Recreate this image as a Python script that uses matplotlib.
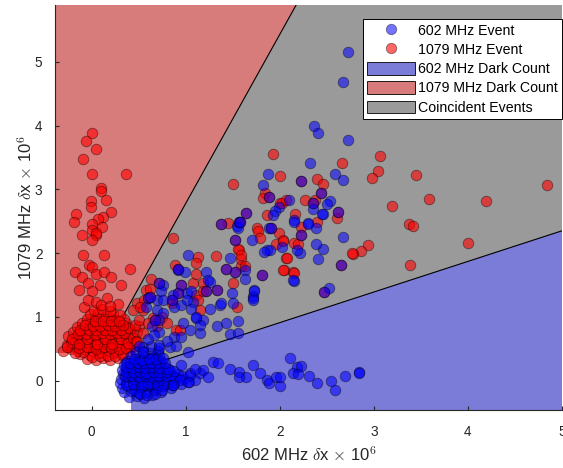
import matplotlib
matplotlib.use("Agg")
import matplotlib.pyplot as plt
from matplotlib.patches import Polygon, Patch
from matplotlib.lines import Line2D

plt.rcParams['font.family'] = ['Liberation Sans', 'DejaVu Sans']
plt.rcParams['mathtext.fontset'] = 'cm'

# ---------------- data ----------------
# dense cluster of 1079 MHz dark counts
red_cluster_x = [-0.05, 0.05, 0.12, 0.20, 0.28,
                 -0.12, -0.02, 0.08, 0.16, 0.24, 0.32,
                 -0.30, -0.22, -0.15, -0.07, 0.01, 0.09, 0.17, 0.25, 0.33, 0.40,
                 -0.26, -0.18, -0.10, -0.03, 0.04, 0.12, 0.20, 0.27, 0.35, 0.43,
                 -0.22, -0.14, -0.06, 0.02, 0.09, 0.16, 0.23, 0.30, 0.38, 0.46,
                 -0.25, -0.17, -0.09, -0.01, 0.07, 0.14, 0.21, 0.28, 0.36, 0.43,
                 -0.20, -0.12, -0.04, 0.04, 0.11, 0.18, 0.26, 0.33, 0.41,
                 -0.16, -0.08, 0.00, 0.08, 0.15, 0.23, 0.31, 0.39,
                 -0.10, -0.02, 0.06, 0.13, 0.21, 0.29, 0.37,
                 -0.05, 0.03, 0.10, 0.18, 0.26, 0.34,
                 -0.02, 0.07, 0.15, 0.23, 0.30,
                 0.02, 0.11, 0.20, -0.08, 0.28,
                 0.03, 0.14, 0.22, -0.11, 0.06, 0.19, 0.36, -0.20, 0.10,
                 0.00, 0.09, 0.17, 0.25, 0.33, -0.09, -0.18, -0.26, 0.41,
                 -0.13, -0.05, 0.05, 0.13, 0.21, 0.29, 0.37, 0.45,
                 -0.21, -0.13, -0.05, 0.06, 0.14, 0.22, 0.31, 0.39,
                 -0.15, -0.06, 0.03, 0.11, 0.19, 0.27, 0.35, 0.44,
                 -0.12, -0.03, 0.05, 0.14, 0.22, 0.31, 0.40,
                 -0.07, 0.01, 0.09, 0.17, 0.25, 0.33, 0.48,
                 0.04, 0.12, 0.21, 0.29, 0.47, 0.50]
red_cluster_y = [0.34, 0.32, 0.36, 0.33, 0.35,
                 0.42, 0.40, 0.43, 0.41, 0.44, 0.40,
                 0.47, 0.50, 0.46, 0.49, 0.47, 0.51, 0.48, 0.46, 0.50, 0.47,
                 0.56, 0.54, 0.57, 0.53, 0.55, 0.58, 0.54, 0.56, 0.53, 0.57,
                 0.61, 0.64, 0.60, 0.63, 0.62, 0.60, 0.64, 0.61, 0.63, 0.62,
                 0.70, 0.68, 0.71, 0.67, 0.69, 0.72, 0.68, 0.70, 0.67, 0.71,
                 0.76, 0.78, 0.75, 0.77, 0.74, 0.78, 0.76, 0.75, 0.79,
                 0.84, 0.82, 0.85, 0.81, 0.83, 0.86, 0.82, 0.84,
                 0.90, 0.92, 0.89, 0.91, 0.88, 0.92, 0.90,
                 0.97, 0.99, 0.96, 0.98, 0.95, 0.97,
                 1.04, 1.06, 1.02, 1.05, 1.03,
                 1.11, 1.13, 1.10, 1.15, 1.20,
                 0.58, 0.66, 0.52, 0.62, 0.73, 0.87, 0.58, 0.59, 0.45,
                 0.37, 0.38, 0.39, 0.38, 0.42, 0.45, 0.44, 0.52, 0.52,
                 0.51, 0.53, 0.50, 0.52, 0.51, 0.50, 0.51, 0.55,
                 0.65, 0.58, 0.66, 0.58, 0.66, 0.58, 0.66, 0.59,
                 0.73, 0.73, 0.72, 0.74, 0.73, 0.74, 0.74, 0.67,
                 0.80, 0.80, 0.79, 0.80, 0.80, 0.79, 0.82,
                 0.87, 0.86, 0.86, 0.87, 0.86, 0.88, 0.76,
                 0.94, 0.93, 0.94, 0.93, 0.62, 0.85]

# scattered 1079 MHz events
red_x = [0.00, -0.06, 0.05, -0.09, 0.00, 0.37, 0.10, 0.10, -0.01, 0.15, -0.01, -0.17, 0.21,
         -0.19, 0.12, 0.07, 0.00, 0.11, 0.00, -0.10, 0.05, 0.05, 0.00, -0.09, 0.13, -0.03,
         0.00, -0.18, -0.10, 0.05, 0.13, 0.21, 0.41, -0.04, 0.09, 0.31, 0.00, -0.13, 0.16,
         -0.04, 0.05, 0.10, 0.20,
         0.86, 1.13, 1.32, 1.11, 0.89, 0.63, 1.08, 1.18, 0.58, 0.85, 1.15, 1.54, 1.50, 1.59,
         2.04, 2.14, 2.07, 1.96, 1.57, 1.11, 0.48, 0.55, 0.69, 0.90,
         4.00, 3.38, 2.94, 2.86, 2.78, 2.08, 2.03, 2.15, 2.15, 2.19, 2.03,
         3.06, 2.66, 3.04, 2.98, 3.45, 2.00, 2.40, 2.46, 2.27, 2.37, 2.00, 2.16, 2.61, 2.40,
         2.22, 3.19, 3.59, 4.19, 4.84, 3.37, 3.42,
         1.93, 1.84, 1.82, 2.02, 2.07, 1.86, 1.76, 1.50, 1.45,
         1.56, 1.59, 1.11, 0.62, 1.18, 0.56, 1.13, 0.44, 0.51, 0.65, 0.94, 0.46,
         1.77, 1.79, 1.99, 2.03, 1.59, 1.63, 2.77,
         0.50, 0.55, 0.60, 0.75, 0.80, 0.48]
red_y = [3.88, 3.75, 3.63, 3.47, 3.24, 3.24, 3.02, 2.98, 2.82, 2.83, 2.73, 2.62, 2.64,
         2.49, 2.57, 2.53, 2.46, 2.41, 2.37, 2.28, 2.28, 2.31, 2.20, 1.97, 1.97, 1.81,
         1.78, 1.71, 1.63, 1.68, 1.71, 1.63, 1.75, 1.53, 1.50, 1.50, 1.40, 1.42, 1.29,
         1.26, 1.24, 1.19, 1.17,
         2.23, 1.94, 1.95, 1.84, 1.81, 1.60, 1.53, 1.53, 1.42, 1.21, 1.11, 1.15, 1.53, 1.79,
         1.74, 1.71, 1.92, 2.15, 2.05, 1.34, 1.21, 1.11, 0.85, 0.79,
         2.16, 1.81, 2.13, 2.04, 1.99, 1.92, 1.74, 1.69, 2.16, 2.14, 2.20,
         3.52, 3.41, 3.29, 3.17, 3.22, 3.21, 3.16, 3.09, 2.84, 2.84, 2.79, 2.62, 2.55, 2.49,
         2.41, 2.74, 2.85, 2.82, 3.07, 2.45, 2.43,
         3.55, 2.94, 2.86, 2.78, 2.83, 2.59, 2.39, 3.09, 2.47,
         2.07, 1.90, 1.68, 1.43, 1.40, 1.26, 1.26, 1.11, 1.15, 0.98, 0.79, 0.87,
         2.34, 2.23, 2.31, 2.19, 1.97, 1.79, 2.00,
         0.95, 0.75, 0.90, 1.00, 0.90, 0.60]

# events seen in both channels (plotted in both series)
both_x = [0.72, 0.95, 1.33, 1.52, 1.81, 0.60, 1.52, 1.22, 0.67, 2.65, 2.47, 2.22, 2.44, 2.35,
          2.62, 2.22, 1.89, 1.64, 1.57, 1.37, 1.58, 0.92, 1.43, 0.92, 0.62, 0.85, 1.91]
both_y = [1.53, 1.50, 1.42, 1.71, 1.66, 1.29, 2.20, 1.40, 0.95, 1.82, 1.39, 3.13, 2.95, 2.78,
          2.65, 2.28, 2.88, 2.63, 2.49, 2.46, 2.49, 1.75, 1.75, 1.38, 1.31, 1.26, 2.39]

# dense cluster of 602 MHz dark counts
blue_cluster_x = [0.40, 0.48, 0.56, 0.64,
                  0.34, 0.42, 0.50, 0.58, 0.66, 0.74,
                  0.32, 0.39, 0.46, 0.53, 0.60, 0.68, 0.76, 0.84,
                  0.30, 0.37, 0.44, 0.51, 0.58, 0.65, 0.72, 0.80, 0.88,
                  0.31, 0.38, 0.45, 0.52, 0.59, 0.66, 0.73, 0.81, 0.90, 0.98,
                  0.33, 0.40, 0.47, 0.54, 0.61, 0.68, 0.76, 0.84, 0.92,
                  0.32, 0.39, 0.46, 0.53, 0.60, 0.67, 0.75, 0.83,
                  0.34, 0.41, 0.48, 0.55, 0.62, 0.70, 0.78,
                  0.38, 0.45, 0.52, 0.59, 0.66, 0.74,
                  0.42, 0.50, 0.57, 0.65, 0.72,
                  0.47, 0.55, 0.63, 0.70,
                  0.55, 0.63, 0.72,
                  0.43, 0.51, 0.57, 0.49, 0.62, 0.36, 0.70, 0.45, 0.55, 0.64,
                  0.36, 0.44, 0.52, 0.60, 0.69, 0.77, 0.86, 0.95, 1.03, 1.10,
                  0.35, 0.43, 0.50, 0.57, 0.64, 0.71, 0.79, 0.87, 0.96, 1.05,
                  0.37, 0.44, 0.51, 0.58, 0.65, 0.72, 0.80, 0.88,
                  0.36, 0.43, 0.50, 0.57, 0.64, 0.72, 0.81,
                  0.41, 0.49, 0.56, 0.63, 0.70, 0.78,
                  0.45, 0.53, 0.61, 0.68, 0.76,
                  0.51, 0.59, 0.67, 0.75]
blue_cluster_y = [-0.26, -0.24, -0.27, -0.23,
                  -0.18, -0.16, -0.19, -0.17, -0.15, -0.18,
                  -0.11, -0.09, -0.12, -0.10, -0.08, -0.11, -0.09, -0.12,
                  -0.04, -0.02, -0.05, -0.03, -0.01, -0.04, -0.02, -0.05, -0.03,
                  0.03, 0.05, 0.02, 0.04, 0.06, 0.02, 0.04, 0.03, 0.05, 0.02,
                  0.10, 0.12, 0.09, 0.11, 0.08, 0.12, 0.10, 0.09, 0.11,
                  0.17, 0.19, 0.16, 0.18, 0.15, 0.19, 0.17, 0.16,
                  0.24, 0.22, 0.25, 0.23, 0.26, 0.24, 0.22,
                  0.31, 0.29, 0.32, 0.30, 0.33, 0.31,
                  0.38, 0.36, 0.39, 0.37, 0.40,
                  0.45, 0.47, 0.44, 0.46,
                  0.52, 0.54, 0.51,
                  0.07, 0.00, 0.14, 0.21, -0.06, 0.27, 0.07, -0.14, -0.07, 0.35,
                  -0.07, -0.06, -0.08, -0.06, -0.07, -0.05, -0.07, -0.06, -0.02, 0.01,
                  0.07, 0.07, 0.06, 0.08, 0.06, 0.07, 0.08, 0.06, 0.08, 0.12,
                  0.14, 0.13, 0.14, 0.12, 0.14, 0.13, 0.14, 0.15,
                  0.21, 0.20, 0.21, 0.20, 0.21, 0.20, 0.19,
                  0.27, 0.28, 0.27, 0.28, 0.27, 0.28,
                  0.34, 0.33, 0.34, 0.34, 0.35,
                  -0.21, -0.22, -0.21, -0.14]

# scattered 602 MHz events
blue_x = [2.73, 2.67, 2.36, 2.41, 2.73, 2.32, 2.59, 2.67, 2.10, 2.53, 2.50, 2.35, 2.46, 2.15,
          2.30, 2.38, 2.67, 1.87, 1.82, 1.99, 1.95, 1.93, 1.89, 2.45, 1.55, 1.56,
          2.46, 2.38, 2.41, 2.21, 2.15, 2.52,
          1.02, 1.47, 1.86, 2.18, 0.92, 1.22, 1.63, 1.63, 2.14, 0.76, 1.26, 1.73, 1.72, 1.72,
          1.01, 0.86, 0.58, 0.69, 0.95, 1.08, 1.36, 1.18, 1.11, 1.43, 1.56, 1.47, 1.15, 0.87,
          0.95, 0.72, 0.83, 1.02,
          1.70, 2.02, 1.90, 1.83, 2.15, 2.30, 1.73, 1.72,
          0.99, 1.24, 1.49, 0.74, 1.06, 1.38, 1.50, 0.76, 1.01, 1.26, 0.69, 0.87, 1.06, 1.11,
          0.76, 0.72, 0.97, 1.15, 1.04, 1.33, 1.56, 0.64, 0.72,
          0.50, 0.60, 0.80, 0.55, 0.90, 0.66,
          2.11, 2.18, 1.29, 1.34, 1.47, 1.57, 1.64, 1.72, 1.79, 1.86, 1.88, 1.96, 2.00, 2.14,
          1.15, 1.18, 1.24, 1.04, 0.95, 1.10, 0.94, 1.02, 0.86, 1.57,
          2.22, 2.19, 2.31, 2.40, 2.54, 2.59, 2.69, 2.84, 2.84, 2.00]
blue_y = [5.15, 4.69, 4.00, 3.89, 3.77, 3.42, 3.24, 3.15, 2.83, 2.81, 2.77, 2.69, 2.62, 2.52,
          2.47, 2.40, 2.26, 3.24, 3.07, 2.73, 2.66, 2.59, 2.40, 2.61, 2.43, 2.40,
          2.07, 2.14, 1.91, 2.00, 1.56, 1.45,
          1.97, 1.92, 2.05, 2.05, 1.74, 1.71, 1.74, 1.60, 1.58, 1.50, 1.55, 1.42, 1.32, 1.29,
          1.37, 1.34, 1.16, 1.26, 1.19, 1.24, 1.19, 0.95, 0.98, 0.90, 0.93, 0.73, 0.74, 0.69,
          0.69, 0.56, 0.53, 0.45,
          2.21, 2.09, 2.05, 2.02, 2.49, 2.46, 1.41, 1.26,
          1.71, 1.58, 1.37, 1.40, 1.40, 1.22, 1.22, 1.26, 1.26, 1.12, 1.11, 1.15, 1.13, 1.00,
          1.06, 0.95, 0.90, 0.87, 0.79, 0.85, 0.75, 0.85, 0.77,
          0.55, 0.65, 0.62, 0.45, 0.55, 0.72,
          0.35, 0.22, 0.30, 0.28, 0.19, 0.14, 0.06, 0.25, 0.12, 0.01, -0.04, 0.06, -0.09, 0.12,
          0.12, 0.17, 0.06, 0.09, 0.25, 0.19, 0.01, -0.02, -0.07, 0.06,
          0.23, 0.10, 0.08, -0.04, 0.00, -0.15, 0.08, 0.14, 0.12, 0.06]

# region boundaries
x_thresh = 0.42      # 602 MHz dark-count threshold
y_thresh = 0.44      # 1079 MHz dark-count threshold
upper_slope, upper_icpt = 2.65, 0.13
lower_slope, lower_icpt = 0.48, -0.05

xlim = (-0.39, 5.0)
ylim = (-0.46, 5.89)

labels = ['602 MHz Event', '1079 MHz Event', '602 MHz Dark Count',
          '1079 MHz Dark Count', 'Coincident Events']

# ---------------- plot ----------------
fig = plt.figure(figsize=(5.63, 4.68), dpi=100)
ax = fig.add_axes([55/563, 58/468, 507/563, 405/468])

c_red_reg = '#d87b7b'
c_blue_reg = '#7b7bd8'
c_gray_reg = '#9a9a9a'

x0, x1 = xlim
y0, y1 = ylim
gray_poly = [(x0, y_thresh), (x_thresh, y_thresh), (x_thresh, y0), (x1, y0), (x1, y1), (x0, y1)]
ax.add_patch(Polygon(gray_poly, closed=True, facecolor=c_gray_reg, edgecolor='none', zorder=0))
xu_low = (y_thresh - upper_icpt) / upper_slope
xu_top = (y1 - upper_icpt) / upper_slope
red_poly = [(x0, y_thresh), (xu_low, y_thresh), (xu_top, y1), (x0, y1)]
ax.add_patch(Polygon(red_poly, closed=True, facecolor=c_red_reg, edgecolor='none', zorder=0.5))
yl_left = lower_slope * x_thresh + lower_icpt
yl_right = lower_slope * x1 + lower_icpt
blue_poly = [(x_thresh, y0), (x1, y0), (x1, yl_right), (x_thresh, yl_left)]
ax.add_patch(Polygon(blue_poly, closed=True, facecolor=c_blue_reg, edgecolor='none', zorder=0.5))
ax.plot([xu_low, xu_top], [y_thresh, y1], color='k', lw=0.8, zorder=1)
ax.plot([x_thresh, x1], [yl_left, yl_right], color='k', lw=0.8, zorder=1)

rx = red_cluster_x + red_x + both_x
ry = red_cluster_y + red_y + both_y
bx = blue_cluster_x + blue_x + both_x
by = blue_cluster_y + blue_y + both_y

ms = 58
ax.scatter(rx, ry, s=ms, color=(1, 0, 0, 0.6), edgecolors=(0, 0, 0, 0.45), linewidths=0.6, zorder=2)
ax.scatter(bx, by, s=ms, color=(0, 0, 1, 0.55), edgecolors=(0, 0, 0, 0.45), linewidths=0.6, zorder=3)

ax.set_xlim(xlim)
ax.set_ylim(ylim)
ax.set_xticks([0, 1, 2, 3, 4, 5])
ax.set_yticks([0, 1, 2, 3, 4, 5])
ax.tick_params(direction='in', length=3, labelsize=9.8, colors='#262626')
ax.tick_params(axis='x', pad=11)
ax.tick_params(axis='y', pad=9)
for s in ['top', 'right']:
    ax.spines[s].set_visible(False)
for s in ['left', 'bottom']:
    ax.spines[s].set_color('#262626')
    ax.spines[s].set_linewidth(0.8)

ax.set_xlabel(r'602 MHz $\delta$x $\times$ 10$^6$', fontsize=12, color='#262626', labelpad=4)
ax.set_ylabel(r'1079 MHz $\delta$x $\times$ 10$^6$', fontsize=12, color='#262626', labelpad=0)

handles = [
    Line2D([], [], marker='o', ls='none', markersize=7.5, markerfacecolor=(0, 0, 1, 0.55),
           markeredgecolor=(0, 0, 0, 0.45), markeredgewidth=0.6),
    Line2D([], [], marker='o', ls='none', markersize=7.5, markerfacecolor=(1, 0, 0, 0.6),
           markeredgecolor=(0, 0, 0, 0.45), markeredgewidth=0.6),
    Patch(facecolor=c_blue_reg, edgecolor='k', linewidth=0.6),
    Patch(facecolor=c_red_reg, edgecolor='k', linewidth=0.6),
    Patch(facecolor=c_gray_reg, edgecolor='k', linewidth=0.6),
]
leg = ax.legend(handles, labels, loc='upper right', bbox_to_anchor=(1.0, 0.965),
                borderaxespad=0, fontsize=10.2, frameon=True, fancybox=False,
                framealpha=1, edgecolor='k', handlelength=3.4, handleheight=1.0,
                labelspacing=0.36, handletextpad=0.2, borderpad=0.3)
leg.get_frame().set_linewidth(0.7)
leg.set_zorder(5)

fig.savefig('out.png', dpi=100)
